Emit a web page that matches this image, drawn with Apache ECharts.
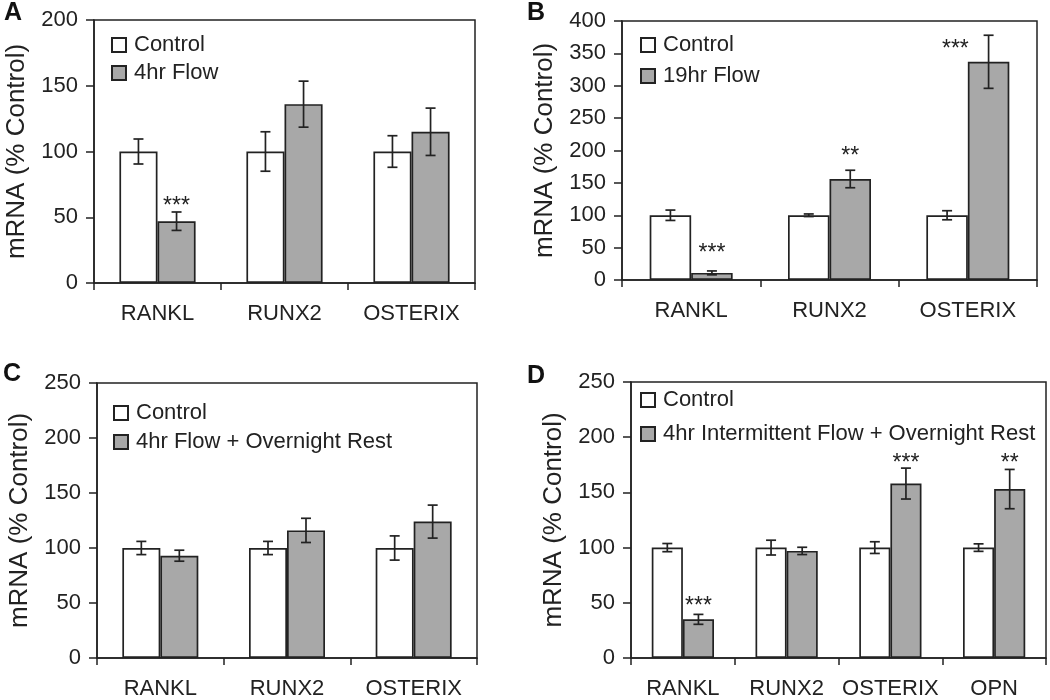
<!DOCTYPE html>
<html>
<head>
<meta charset="utf-8">
<script src="https://cdn.jsdelivr.net/npm/echarts@6/dist/echarts.min.js"></script>
<style>
html,body{margin:0;padding:0;background:#fff;}
#chart{width:1050px;height:700px;}
</style>
</head>
<body>
<div id="chart"></div>
<script>
// ---------- DATA ----------
var catsA = ['RANKL', 'RUNX2', 'OSTERIX'];
var ctrlA = [100, 100, 100];
var ctrlErrA = [9.5, 15, 12];
var flowA = [47, 136, 115];
var flowErrA = [7, 17.5, 18];
var sigA = ['***', '', ''];
var sigYA = [63, null, null];

var catsB = ['RANKL', 'RUNX2', 'OSTERIX'];
var ctrlB = [100, 100, 100];
var ctrlErrB = [8, 2, 7];
var flowB = [11, 156, 337];
var flowErrB = [3, 13.5, 41];
var sigB = ['***', '**', '***'];
var sigYB = [51, 202, 366];

var catsC = ['RANKL', 'RUNX2', 'OSTERIX'];
var ctrlC = [100, 100, 100];
var ctrlErrC = [6, 6, 11];
var flowC = [93, 116, 124];
var flowErrC = [5, 11, 15];
var sigC = ['', '', ''];
var sigYC = [null, null, null];

var catsD = ['RANKL', 'RUNX2', 'OSTERIX', 'OPN'];
var ctrlD = [100, 100, 100, 100];
var ctrlErrD = [3.7, 6.7, 5.3, 3.4];
var flowD = [35, 97, 158, 153];
var flowErrD = [4.5, 3.3, 14, 17.8];
var sigD = ['***', '', '***', '**'];
var sigYD = [53, null, 182, 182];

var yTicksA = {min: 0, max: 200, interval: 50};
var yTicksB = {min: 0, max: 400, interval: 50};
var yTicksC = {min: 0, max: 250, interval: 50};
var yTicksD = {min: 0, max: 250, interval: 50};

var legendNamesA = ['Control', '4hr Flow'];
var legendNamesB = ['Control', '19hr Flow'];
var legendNamesC = ['Control', '4hr Flow + Overnight Rest'];
var legendNamesD = ['Control', '4hr Intermittent Flow + Overnight Rest'];

// ---------- STYLE ----------
var FONT = '"Liberation Sans", Arial, sans-serif';
var INK = '#222';
var GRAY = '#a8a8a8';
var BAR_FRAC = 0.30;

var panels = [
  {letter: 'A', cats: catsA, ctrl: ctrlA, ctrlErr: ctrlErrA, flow: flowA, flowErr: flowErrA, sig: sigA, sigY: sigYA, y: yTicksA, names: legendNamesA,
   grid: {left: 94, top: 20, width: 381, height: 263}, legend: {left: 111, top: 34, gap: 6}, letterPos: {left: 4, top: 1}},
  {letter: 'B', cats: catsB, ctrl: ctrlB, ctrlErr: ctrlErrB, flow: flowB, flowErr: flowErrB, sig: sigB, sigY: sigYB, y: yTicksB, names: legendNamesB,
   grid: {left: 622, top: 21, width: 415, height: 259}, legend: {left: 640, top: 34, gap: 9}, letterPos: {left: 527, top: 1}},
  {letter: 'C', cats: catsC, ctrl: ctrlC, ctrlErr: ctrlErrC, flow: flowC, flowErr: flowErrC, sig: sigC, sigY: sigYC, y: yTicksC, names: legendNamesC,
   grid: {left: 97, top: 383, width: 380, height: 281}, legend: {left: 113, top: 402, gap: 7}, letterPos: {left: 3, top: 362}},
  {letter: 'D', cats: catsD, ctrl: ctrlD, ctrlErr: ctrlErrD, flow: flowD, flowErr: flowErrD, sig: sigD, sigY: sigYD, y: yTicksD, names: legendNamesD,
   grid: {left: 631, top: 382, width: 415, height: 281}, legend: {left: 640, top: 389, gap: 12}, letterPos: {left: 527, top: 364}}
];

function errRender(side) {
  return function (params, api) {
    var x = api.value(0), v = api.value(1), e = api.value(2);
    var bw = api.size([1, 0])[0] * BAR_FRAC;
    var c = api.coord([x, v]);
    var cx = c[0] + side * bw / 2;
    var top = api.coord([x, v + e])[1];
    var bot = api.coord([x, v - e])[1];
    var hw = 5;
    var st = {stroke: INK, lineWidth: 1.7};
    return {type: 'group', children: [
      {type: 'line', shape: {x1: cx, y1: top, x2: cx, y2: bot}, style: st},
      {type: 'line', shape: {x1: cx - hw, y1: top, x2: cx + hw, y2: top}, style: st},
      {type: 'line', shape: {x1: cx - hw, y1: bot, x2: cx + hw, y2: bot}, style: st}
    ]};
  };
}

function sigRender(p) {
  return function (params, api) {
    var i = api.value(0), sy = api.value(1);
    var bw = api.size([1, 0])[0] * BAR_FRAC;
    var c = api.coord([i, sy]);
    var cx = c[0] + bw / 2;
    var errTop = p.flow[i] + p.flowErr[i];
    if (sy < errTop) { cx -= bw * 0.8; }
    return {type: 'text', x: cx, y: c[1] + 7, style: {
      text: p.sig[i], fontSize: 23, fontFamily: FONT, fill: INK, align: 'center', verticalAlign: 'middle'}};
  };
}

var option = {
  animation: false,
  backgroundColor: '#fff',
  title: [], grid: [], xAxis: [], yAxis: [], legend: [], series: []
};

panels.forEach(function (p, k) {
  option.title.push({text: p.letter, left: p.letterPos.left, top: p.letterPos.top, padding: 0,
    textStyle: {fontFamily: FONT, fontSize: 25, fontWeight: 'bold', color: '#111'}});
  option.grid.push({left: p.grid.left, top: p.grid.top, width: p.grid.width, height: p.grid.height,
    show: true, borderColor: INK, borderWidth: 1.5, backgroundColor: 'transparent', containLabel: false});
  option.xAxis.push({type: 'category', gridIndex: k, data: p.cats,
    axisLine: {lineStyle: {color: INK, width: 1.5}},
    axisTick: {show: true, length: 7, lineStyle: {color: INK, width: 1.5}},
    axisLabel: {color: INK, fontFamily: FONT, fontSize: 22, margin: 20, interval: 0},
    splitLine: {show: false}});
  option.yAxis.push({type: 'value', gridIndex: k, min: p.y.min, max: p.y.max, interval: p.y.interval,
    name: 'mRNA (% Control)', nameLocation: 'middle', nameGap: 64,
    nameTextStyle: {color: INK, fontFamily: FONT, fontSize: 26},
    axisLine: {show: true, lineStyle: {color: INK, width: 1.5}},
    axisTick: {show: true, length: 8, lineStyle: {color: INK, width: 1.5}},
    axisLabel: {color: INK, fontFamily: FONT, fontSize: 22, margin: 16},
    splitLine: {show: false}});
  option.legend.push({orient: 'vertical', left: p.legend.left, top: p.legend.top, itemGap: p.legend.gap,
    data: p.names, icon: 'rect', itemWidth: 14, itemHeight: 14, selectedMode: false, padding: 0,
    textStyle: {color: INK, fontFamily: FONT, fontSize: 22, lineHeight: 22, padding: [0, 0, 0, 3]}});
  option.series.push({type: 'bar', name: p.names[0], xAxisIndex: k, yAxisIndex: k, data: p.ctrl,
    barWidth: (BAR_FRAC * 100) + '%', barGap: '0%',
    itemStyle: {color: '#fff', borderColor: INK, borderWidth: 1.7}});
  option.series.push({type: 'bar', name: p.names[1], xAxisIndex: k, yAxisIndex: k, data: p.flow,
    barWidth: (BAR_FRAC * 100) + '%', barGap: '0%',
    itemStyle: {color: GRAY, borderColor: INK, borderWidth: 1.7}});
  option.series.push({type: 'custom', name: 'errCtrl' + k, xAxisIndex: k, yAxisIndex: k, z: 5,
    renderItem: errRender(-1),
    data: p.ctrl.map(function (v, i) { return [i, v, p.ctrlErr[i]]; })});
  option.series.push({type: 'custom', name: 'errFlow' + k, xAxisIndex: k, yAxisIndex: k, z: 5,
    renderItem: errRender(1),
    data: p.flow.map(function (v, i) { return [i, v, p.flowErr[i]]; })});
  var sd = [];
  p.sig.forEach(function (s, i) { if (s) sd.push([i, p.sigY[i]]); });
  option.series.push({type: 'custom', name: 'sig' + k, xAxisIndex: k, yAxisIndex: k, z: 6,
    renderItem: sigRender(p), data: sd});
});

var chart = echarts.init(document.getElementById('chart'), null, {renderer: 'canvas'});
chart.setOption(option);
</script>
</body>
</html>
